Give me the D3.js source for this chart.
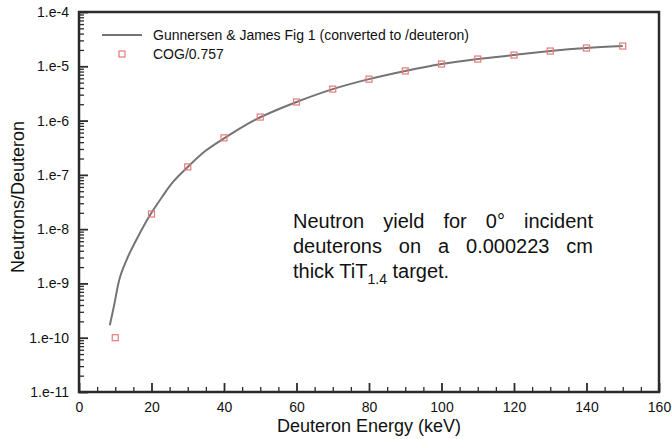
<!DOCTYPE html>
<html>
<head>
<meta charset="utf-8">
<script src="https://cdn.jsdelivr.net/npm/d3@7"></script>
<style>
  body { margin: 0; background: #fff; }
  text { font-family: "Liberation Sans", Arial, Helvetica, sans-serif; fill: #111; }
</style>
</head>
<body>
<svg width="672" height="439"></svg>
<script>
// Gunnersen & James curve
const curveEnergy = [8.5, 9.6, 11.3, 13.5, 15.4, 17.7, 20, 23, 26, 30, 35, 40, 45, 50, 60, 70, 80, 90, 100, 110, 120, 130, 140, 150];
const curveYield = [1.7e-10, 3.7e-10, 1.3e-9, 3.1e-9, 5.6e-9, 1.1e-8, 2.0e-8, 4.0e-8, 7.5e-8, 1.4e-7, 2.8e-7, 4.7e-7, 7.6e-7, 1.15e-6, 2.2e-6, 3.8e-6, 5.8e-6, 8.2e-6, 1.10e-5, 1.36e-5, 1.61e-5, 1.91e-5, 2.17e-5, 2.36e-5];

// COG/0.757 points
const cogEnergy = [10, 20, 30, 40, 50, 60, 70, 80, 90, 100, 110, 120, 130, 140, 150];
const cogYield = [1.0e-10, 1.9e-8, 1.4e-7, 4.8e-7, 1.16e-6, 2.2e-6, 3.8e-6, 5.8e-6, 8.2e-6, 1.10e-5, 1.36e-5, 1.61e-5, 1.91e-5, 2.17e-5, 2.36e-5];

const xTicks = [0, 20, 40, 60, 80, 100, 120, 140, 160];
const yTicks = [1e-11, 1e-10, 1e-9, 1e-8, 1e-7, 1e-6, 1e-5, 1e-4];
const legendLabels = ["Gunnersen & James Fig 1 (converted to /deuteron)", "COG/0.757"];
const noteLines = ["Neutron yield for 0° incident", "deuterons on a 0.000223 cm"];

const svg = d3.select("svg");
const pLeft = 79, pRight = 659, pTop = 12, pBottom = 392;
const axisColor = "#2b2b2b";

let xScale = d3.scaleLinear().domain([0, 160]).range([pLeft, pRight]);
let yScale = d3.scaleLog().domain([1e-11, 1e-4]).range([pBottom, pTop]);

// minor ticks
let xMinor = d3.range(0, 161, 5).filter(v => v % 20 != 0);
let yMinor = [];
yTicks.slice(0, -1).forEach(d => { for (let k = 2; k <= 9; k++) yMinor.push(d * k); });

svg.append("g").attr("transform", `translate(0, ${pBottom})`)
  .call(d3.axisBottom(xScale).tickValues(xMinor).tickSize(-5).tickFormat(""))
  .call(g => g.select(".domain").remove())
  .selectAll("line").attr("stroke", axisColor).attr("stroke-width", 1.3);

svg.append("g").attr("transform", `translate(${pLeft}, 0)`)
  .call(d3.axisLeft(yScale).tickValues(yMinor).tickSize(-5).tickFormat(""))
  .call(g => g.select(".domain").remove())
  .selectAll("line").attr("stroke", axisColor).attr("stroke-width", 1.3);

// major ticks + labels
let xAxis = d3.axisBottom(xScale).tickValues(xTicks).tickSize(-9).tickPadding(9).tickFormat(d3.format("d"));
svg.append("g").attr("id", "xAxisG").attr("transform", `translate(0, ${pBottom})`).call(xAxis)
  .call(g => g.select(".domain").remove());

let yAxis = d3.axisLeft(yScale).tickValues(yTicks).tickSize(-9).tickPadding(10)
  .tickFormat(d => "1.e" + Math.round(Math.log10(d)));
svg.append("g").attr("id", "yAxisG").attr("transform", `translate(${pLeft}, 0)`).call(yAxis)
  .call(g => g.select(".domain").remove());

svg.selectAll("#xAxisG line, #yAxisG line").attr("stroke", axisColor).attr("stroke-width", 1.8);
svg.selectAll("#xAxisG text, #yAxisG text").style("font-size", "14px").attr("fill", "#111");
svg.selectAll("#xAxisG text").attr("dy", "0.75em");

// frame
svg.append("rect")
  .attr("x", pLeft).attr("y", pTop)
  .attr("width", pRight - pLeft).attr("height", pBottom - pTop)
  .attr("fill", "none").attr("stroke", axisColor).attr("stroke-width", 2.5);

// axis titles
svg.append("text")
  .attr("x", xScale(80)).attr("y", 432)
  .attr("text-anchor", "middle").style("font-size", "18px")
  .text("Deuteron Energy (keV)");
svg.append("text")
  .attr("transform", `translate(24, ${(pTop + pBottom) / 2 - 5}) rotate(-90)`)
  .attr("text-anchor", "middle").style("font-size", "18px")
  .text("Neutrons/Deuteron");

// curve
let curveData = curveEnergy.map((e, i) => ({ e: e, v: curveYield[i] }));
let line = d3.line().x(d => xScale(d.e)).y(d => yScale(d.v)).curve(d3.curveCatmullRom.alpha(0.5));
svg.append("path")
  .datum(curveData)
  .attr("d", line)
  .attr("fill", "none")
  .attr("stroke", "#747474")
  .attr("stroke-width", 2);

// COG points
const sq = 6;
svg.selectAll("rect.cog")
  .data(cogEnergy.map((e, i) => ({ e: e, v: cogYield[i] })))
  .join("rect")
  .attr("class", "cog")
  .attr("x", d => xScale(d.e) - sq / 2)
  .attr("y", d => yScale(d.v) - sq / 2)
  .attr("width", sq).attr("height", sq)
  .attr("fill", "none")
  .attr("stroke", "#e57a7a")
  .attr("stroke-width", 1.2);

// legend
let legend = svg.append("g");
legend.append("line")
  .attr("x1", 102).attr("x2", 142).attr("y1", 35).attr("y2", 35)
  .attr("stroke", "#747474").attr("stroke-width", 2);
legend.append("rect")
  .attr("x", 122 - sq / 2).attr("y", 54 - sq / 2)
  .attr("width", sq).attr("height", sq)
  .attr("fill", "none").attr("stroke", "#e57a7a").attr("stroke-width", 1.2);
legend.selectAll("text")
  .data(legendLabels)
  .join("text")
  .attr("x", 153)
  .attr("y", (d, i) => 40 + i * 19)
  .style("font-size", "14px")
  .text(d => d);

// note, justified lines
const noteX = 293, noteW = 300;
noteLines.forEach((s, i) => {
  let t = svg.append("text")
    .attr("x", noteX).attr("y", 228 + i * 25)
    .style("font-size", "20px")
    .text(s);
  let w = t.node().getComputedTextLength();
  let gaps = s.split(" ").length - 1;
  t.style("word-spacing", ((noteW - w) / gaps) + "px");
});
let last = svg.append("text")
  .attr("x", noteX).attr("y", 278)
  .style("font-size", "20px");
last.append("tspan").text("thick TiT");
last.append("tspan").attr("dy", 6).style("font-size", "14px").text("1.4");
last.append("tspan").attr("dy", -6).text(" target.");
</script>
</body>
</html>
